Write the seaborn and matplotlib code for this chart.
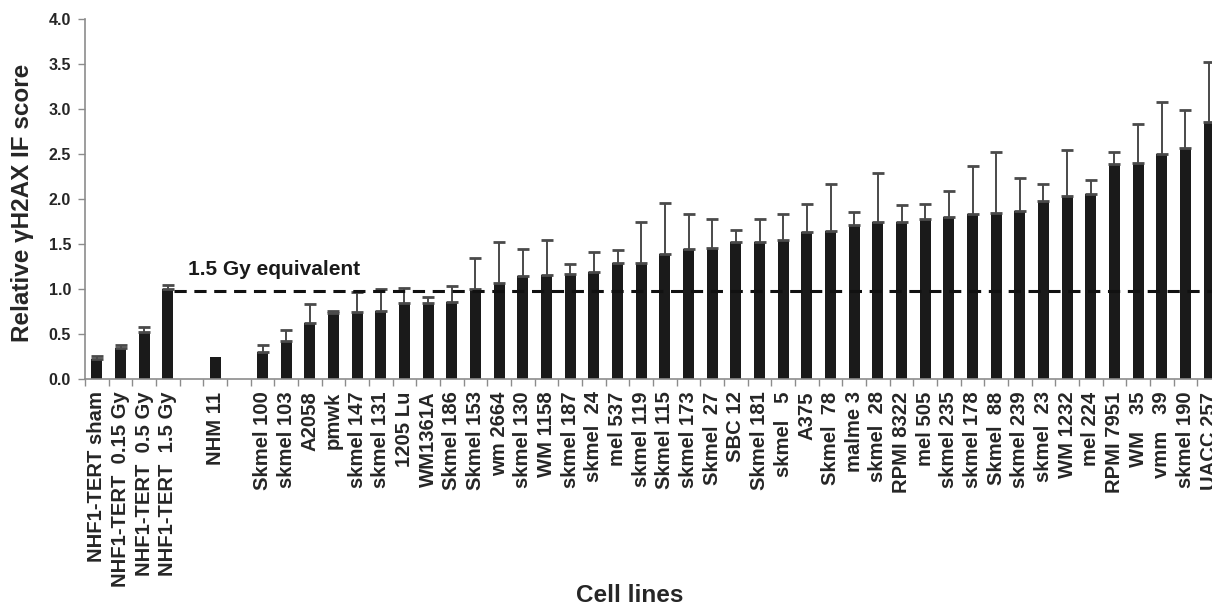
import numpy as np
import pandas as pd
import matplotlib
matplotlib.use('Agg')
import matplotlib.pyplot as plt
import seaborn as sns

# cell lines in plotted order ('' and ' ' are the empty gap slots)
cell_lines = ['NHF1-TERT sham', 'NHF1-TERT  0.15 Gy', 'NHF1-TERT  0.5 Gy', 'NHF1-TERT  1.5 Gy',
              '', 'NHM 11', ' ',
              'Skmel 100', 'skmel 103', 'A2058', 'pmwk', 'skmel 147', 'skmel 131', '1205 Lu',
              'WM1361A', 'Skmel 186', 'Skmel 153', 'wm 2664', 'skmel 130', 'WM 1158', 'skmel 187',
              'skmel  24', 'mel 537', 'skmel 119', 'Skmel 115', 'skmel 173', 'Skmel  27', 'SBC 12',
              'Skmel 181', 'skmel   5', 'A375', 'Skmel  78', 'malme 3', 'skmel  28', 'RPMI 8322',
              'mel 505', 'skmel 235', 'skmel 178', 'Skmel  88', 'skmel 239', 'skmel  23', 'WM 1232',
              'mel 224', 'RPMI 7951', 'WM   35', 'vmm   39', 'skmel 190', 'UACC 257']

scores = [0.22, 0.34, 0.525, 1.0,
          np.nan, 0.25, np.nan,
          0.30, 0.42, 0.62, 0.73, 0.75, 0.76, 0.85,
          0.85, 0.86, 1.00, 1.07, 1.14, 1.16, 1.17,
          1.185, 1.285, 1.29, 1.39, 1.44, 1.46, 1.52,
          1.52, 1.55, 1.63, 1.645, 1.71, 1.745, 1.745,
          1.775, 1.80, 1.83, 1.85, 1.87, 1.975, 2.03,
          2.06, 2.39, 2.40, 2.50, 2.57, 2.86]

# upper standard deviation (only the upper arm is drawn)
errors = [0.035, 0.04, 0.05, 0.05,
          np.nan, np.nan, np.nan,
          0.08, 0.12, 0.21, 0.03, 0.22, 0.24, 0.16,
          0.06, 0.17, 0.35, 0.45, 0.31, 0.38, 0.11,
          0.23, 0.15, 0.46, 0.57, 0.39, 0.32, 0.14,
          0.26, 0.28, 0.31, 0.52, 0.15, 0.54, 0.19,
          0.17, 0.29, 0.54, 0.67, 0.36, 0.195, 0.52,
          0.15, 0.13, 0.43, 0.58, 0.42, 0.66]

ref_level = 0.98  # 1.5 Gy equivalent
ref_label = '1.5 Gy equivalent'


def main():
    sns.set_style('ticks')
    plt.rcParams['font.family'] = ['Liberation Sans', 'DejaVu Sans']
    plt.rcParams['font.weight'] = 'bold'

    df = pd.DataFrame({'cell_line': cell_lines, 'score': scores, 'err': errors})
    bars = df.dropna(subset=['score'])

    fig = plt.figure(figsize=(12.12, 6.05), dpi=100)
    ax = fig.add_axes([85 / 1212, 226 / 605, 1136 / 1212, 360 / 605])

    sns.barplot(data=bars, x='cell_line', y='score', order=cell_lines, color='#1a1a1a',
                saturation=1, width=0.47, errorbar=None, ax=ax)
    for p in ax.patches:
        p.set_edgecolor('none')

    errs = df.dropna(subset=['err'])
    pos = [cell_lines.index(c) for c in errs['cell_line']]
    _, caps, _ = ax.errorbar(pos, errs['score'], yerr=[np.zeros(len(errs)), errs['err']],
                             fmt='none', ecolor='#4a4a4a', elinewidth=1.4, capsize=4,
                             capthick=2, zorder=3)
    for cap in caps:
        cap.set_color('#1a1a1a')

    ax.plot([cell_lines.index('NHF1-TERT  1.5 Gy') + 0.24, len(cell_lines) - 0.5],
            [ref_level, ref_level], color='#111111', lw=2.2, ls=(0, (4, 2.5)), zorder=4)
    ax.text(3.85, 1.22, ref_label, fontsize=15, fontweight='bold', va='center', ha='left',
            color='#1a1a1a')

    ax.set_xlim(-0.5, len(cell_lines) - 0.5)
    ax.set_ylim(0, 4.0)
    ax.set_yticks(np.arange(0, 4.01, 0.5))
    ax.set_yticklabels([f'{v:.1f}' for v in np.arange(0, 4.01, 0.5)], fontsize=11.5,
                       fontweight='bold')
    ax.set_xticks(range(len(cell_lines)))
    ax.set_xticklabels(cell_lines, rotation=90, fontsize=14.6, fontweight='bold')
    ax.set_xticks(np.arange(-0.5, len(cell_lines), 1), minor=True)
    ax.tick_params(axis='x', which='major', length=0, pad=9)
    ax.tick_params(axis='x', which='minor', length=5, color='#8c8c8c', width=1, direction='out')
    ax.tick_params(axis='y', length=5, color='#8c8c8c', width=1, direction='out', pad=5)

    sns.despine(ax=ax)
    for s in ['left', 'bottom']:
        ax.spines[s].set_color('#8c8c8c')
        ax.spines[s].set_linewidth(1.2)

    ax.set_ylabel('Relative \u03b3H2AX IF score', fontsize=17.5, fontweight='bold')
    ax.yaxis.set_label_coords(-0.055, 0.49)
    ax.yaxis.label.set_va('center')
    ax.set_xlabel('Cell lines', fontsize=17.5, fontweight='bold')
    ax.xaxis.set_label_coords((630 - 85) / 1136, (379 - 595) / 360)
    ax.xaxis.label.set_va('center')

    fig.savefig('out.png', dpi=100)


if __name__ == '__main__':
    main()
